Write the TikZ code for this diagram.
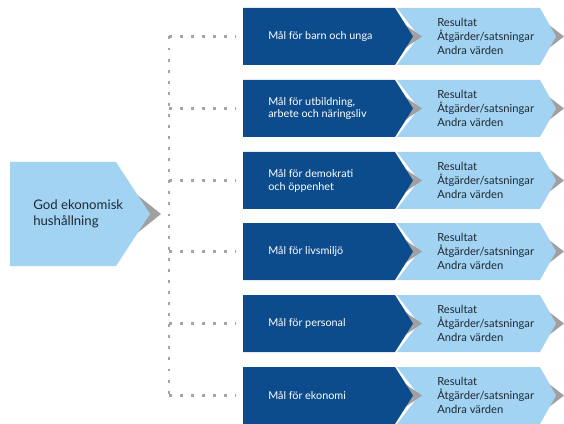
\documentclass[tikz,border=0pt]{standalone}
\usepackage{fontspec}
\setmainfont{Lato}
\definecolor{darkblue}{HTML}{0C4C8C}
\definecolor{lightblue}{HTML}{A3D3F3}
\definecolor{shadowgray}{HTML}{A0A0A0}
\definecolor{dotgray}{HTML}{A4A4A4}
\definecolor{txtdark}{HTML}{1E2A33}
\begin{document}
\begin{tikzpicture}[x=0.75pt,y=-0.75pt,
  darkshape/.style={fill=darkblue},
  lightshape/.style={fill=lightblue},
  shadowshape/.style={fill=shadowgray},
  dotline/.style={draw=dotgray, line width=2.2pt, dash pattern=on 2.2pt off 6.1pt},
  darktext/.style={anchor=west, text=white, font=\fontsize{8.1}{9.6}\selectfont, align=left, inner sep=0pt},
  lighttext/.style={anchor=west, text=txtdark, font=\fontsize{8.4}{10.4}\selectfont, align=left, inner sep=0pt},
  maintext/.style={anchor=west, text=txtdark, font=\fontsize{9.9}{11.6}\selectfont, align=left, inner sep=0pt}]
\useasboundingbox (0,0) rectangle (564,424);
% left box
\fill[shadowshape] (116,178) -- (161,214) -- (116,250) -- (150,214) -- cycle;
\fill[lightshape] (10,162) -- (116,162) -- (150,214) -- (116,266) -- (10,266) -- cycle;
\node[maintext] (g) at (33,214) {God ekonomisk\\hushållning};
% rows
\foreach \i/\t/\txt in {1/8/{Mål för barn och unga},
                        2/80/{Mål för utbildning,\\arbete och näringsliv},
                        3/152/{Mål för demokrati\\och öppenhet},
                        4/223/{Mål för livsmiljö},
                        5/295/{Mål för personal},
                        6/367/{Mål för ekonomi}}{
  \pgfmathsetmacro{\m}{\t+28.5}
  \pgfmathsetmacro{\b}{\t+57}
  \pgfmathsetmacro{\ta}{\t+10}
  \pgfmathsetmacro{\ba}{\b-10}
  \fill[shadowshape] (540,\ta) -- (564,\m) -- (540,\ba) -- (556,\m) -- cycle;
  \fill[lightshape] (397,\t) -- (540,\t) -- (556,\m) -- (540,\b) -- (397,\b) -- (419,\m) -- cycle;
  \fill[shadowshape] (395,\ta) -- (422,\m) -- (395,\ba) -- (413,\m) -- cycle;
  \fill[darkshape] (243,\t) -- (395,\t) -- (413,\m) -- (395,\b) -- (243,\b) -- cycle;
  \node[darktext] (d\i) at (268,\m) {\txt};
  \node[lighttext] (l\i) at (437,\m) {Resultat\\Åtgärder/satsningar\\Andra värden};
  \coordinate (h\i) at (169,\m);
  \coordinate (e\i) at (236,\m);
  \draw[dotline] (h\i) -- (e\i);
}
\draw[dotline] (h1) -- (h6);
\end{tikzpicture}
\end{document}
